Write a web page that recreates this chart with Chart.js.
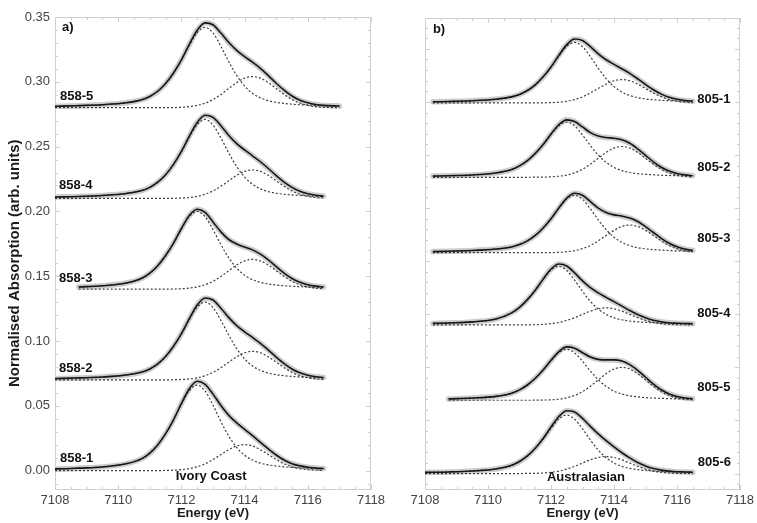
<!DOCTYPE html>
<html>
<head>
<meta charset="utf-8">
<script src="https://cdn.jsdelivr.net/npm/chart.js@4.4.1/dist/chart.umd.min.js"></script>
<style>
  html, body { margin: 0; padding: 0; background: #fff; }
  body { width: 757px; height: 523px; position: relative; overflow: hidden; }
  canvas { position: absolute; top: 0; }
  #ivory { left: 0; }
  #austral { left: 380px; }
</style>
</head>
<body>
<canvas id="ivory" width="400" height="523"></canvas>
<canvas id="austral" width="377" height="523"></canvas>
<script>
// shared energy grid (eV)
const energy = [7108.0, 7108.25, 7108.75, 7109.5, 7110.25, 7110.75, 7111.0, 7111.25, 7111.5, 7111.75,
  7112.0, 7112.25, 7112.5, 7112.75, 7113.0, 7113.25, 7113.5, 7113.75, 7114.0, 7114.25,
  7114.5, 7114.75, 7115.0, 7115.25, 7115.5, 7115.75, 7116.0, 7116.25, 7116.5, 7117.0];

const xTicks = [7108, 7110, 7112, 7114, 7116, 7118];
const yTicks = [0, 0.05, 0.10, 0.15, 0.20, 0.25, 0.30, 0.35];

//// a) Ivory Coast
const fit_858_5 = [0.2811, 0.2812, 0.2816, 0.2823, 0.2838, 0.2862, 0.2887, 0.2927, 0.2987, 0.3068, 0.3169, 0.3289, 0.3398, 0.3455, 0.3440, 0.3376, 0.3303, 0.3243, 0.3195, 0.3151, 0.3104, 0.3048, 0.2989, 0.2935, 0.2890, 0.2858, 0.2838, 0.2825, 0.2818, 0.2813];
const pk1_858_5 = [0.2811, 0.2812, 0.2816, 0.2823, 0.2838, 0.2862, 0.2887, 0.2927, 0.2986, 0.3067, 0.3166, 0.3281, 0.3380, 0.3420, 0.3377, 0.3274, 0.3155, 0.3049, 0.2967, 0.2911, 0.2876, 0.2854, 0.2841, 0.2833, 0.2827, 0.2823, 0.2820, 0.2817, 0.2815, 0.2812];
const pk2_858_5 = [0.2800, 0.2800, 0.2800, 0.2800, 0.2800, 0.2800, 0.2800, 0.2800, 0.2800, 0.2801, 0.2803, 0.2808, 0.2818, 0.2835, 0.2863, 0.2902, 0.2948, 0.2994, 0.3028, 0.3040, 0.3028, 0.2994, 0.2948, 0.2902, 0.2863, 0.2835, 0.2818, 0.2808, 0.2803, 0.2800];

const fit_858_4 = [0.2110, 0.2112, 0.2115, 0.2123, 0.2138, 0.2161, 0.2185, 0.2225, 0.2283, 0.2363, 0.2463, 0.2580, 0.2686, 0.2742, 0.2725, 0.2661, 0.2586, 0.2523, 0.2474, 0.2429, 0.2383, 0.2331, 0.2276, 0.2226, 0.2185, 0.2155, 0.2136, 0.2124, 0.2118, null];
const pk1_858_4 = [0.2110, 0.2112, 0.2115, 0.2123, 0.2138, 0.2161, 0.2185, 0.2225, 0.2283, 0.2362, 0.2460, 0.2573, 0.2670, 0.2710, 0.2667, 0.2567, 0.2450, 0.2345, 0.2265, 0.2209, 0.2174, 0.2153, 0.2140, 0.2132, 0.2127, 0.2123, 0.2120, 0.2117, 0.2115, null];
const pk2_858_4 = [0.2100, 0.2100, 0.2100, 0.2100, 0.2100, 0.2100, 0.2100, 0.2100, 0.2100, 0.2101, 0.2103, 0.2107, 0.2116, 0.2132, 0.2158, 0.2194, 0.2236, 0.2278, 0.2309, 0.2320, 0.2309, 0.2278, 0.2236, 0.2194, 0.2158, 0.2132, 0.2116, 0.2107, 0.2103, null];

const fit_858_3 = [null, null, 0.1417, 0.1426, 0.1447, 0.1484, 0.1523, 0.1580, 0.1659, 0.1755, 0.1868, 0.1969, 0.2017, 0.1992, 0.1919, 0.1842, 0.1783, 0.1748, 0.1725, 0.1703, 0.1670, 0.1626, 0.1574, 0.1524, 0.1482, 0.1453, 0.1434, 0.1423, 0.1416, null];
const pk1_858_3 = [null, null, 0.1417, 0.1426, 0.1447, 0.1484, 0.1523, 0.1580, 0.1658, 0.1754, 0.1865, 0.1961, 0.2000, 0.1958, 0.1859, 0.1744, 0.1641, 0.1562, 0.1507, 0.1473, 0.1452, 0.1440, 0.1432, 0.1426, 0.1422, 0.1419, 0.1417, 0.1415, 0.1413, null];
const pk2_858_3 = [null, null, 0.1400, 0.1400, 0.1400, 0.1400, 0.1400, 0.1400, 0.1400, 0.1401, 0.1403, 0.1408, 0.1417, 0.1434, 0.1460, 0.1498, 0.1542, 0.1586, 0.1618, 0.1630, 0.1618, 0.1586, 0.1542, 0.1498, 0.1460, 0.1434, 0.1417, 0.1408, 0.1403, null];

const fit_858_2 = [0.0710, 0.0711, 0.0715, 0.0722, 0.0737, 0.0760, 0.0784, 0.0823, 0.0880, 0.0959, 0.1057, 0.1172, 0.1277, 0.1332, 0.1316, 0.1253, 0.1180, 0.1119, 0.1071, 0.1027, 0.0982, 0.0930, 0.0876, 0.0826, 0.0784, 0.0754, 0.0735, 0.0724, 0.0718, null];
const pk1_858_2 = [0.0710, 0.0711, 0.0715, 0.0722, 0.0737, 0.0760, 0.0784, 0.0823, 0.0880, 0.0958, 0.1054, 0.1165, 0.1261, 0.1300, 0.1258, 0.1159, 0.1044, 0.0941, 0.0862, 0.0807, 0.0773, 0.0752, 0.0740, 0.0732, 0.0726, 0.0722, 0.0719, 0.0717, 0.0715, null];
const pk2_858_2 = [0.0700, 0.0700, 0.0700, 0.0700, 0.0700, 0.0700, 0.0700, 0.0700, 0.0700, 0.0701, 0.0703, 0.0707, 0.0716, 0.0732, 0.0758, 0.0794, 0.0836, 0.0878, 0.0909, 0.0920, 0.0909, 0.0878, 0.0836, 0.0794, 0.0758, 0.0732, 0.0716, 0.0707, 0.0703, null];

const fit_858_1 = [0.0013, 0.0014, 0.0019, 0.0028, 0.0052, 0.0092, 0.0135, 0.0198, 0.0285, 0.0392, 0.0518, 0.0632, 0.0689, 0.0666, 0.0590, 0.0502, 0.0426, 0.0368, 0.0318, 0.0270, 0.0218, 0.0168, 0.0120, 0.0081, 0.0053, 0.0036, 0.0026, 0.0019, 0.0016, null];
const pk1_858_1 = [0.0013, 0.0014, 0.0019, 0.0028, 0.0052, 0.0092, 0.0135, 0.0198, 0.0284, 0.0389, 0.0512, 0.0617, 0.0660, 0.0614, 0.0505, 0.0378, 0.0265, 0.0178, 0.0118, 0.0081, 0.0057, 0.0044, 0.0035, 0.0029, 0.0024, 0.0021, 0.0019, 0.0016, 0.0015, null];
const pk2_858_1 = [0.0000, 0.0000, 0.0000, 0.0000, 0.0000, 0.0000, 0.0000, 0.0000, 0.0001, 0.0003, 0.0007, 0.0015, 0.0029, 0.0052, 0.0085, 0.0124, 0.0161, 0.0190, 0.0200, 0.0190, 0.0161, 0.0124, 0.0085, 0.0052, 0.0029, 0.0015, 0.0007, 0.0003, 0.0001, null];

//// b) Australasian
const fit_805_1 = [null, 0.3501, 0.3504, 0.3511, 0.3525, 0.3547, 0.3570, 0.3607, 0.3661, 0.3736, 0.3829, 0.3939, 0.4039, 0.4092, 0.4078, 0.4020, 0.3953, 0.3897, 0.3853, 0.3812, 0.3769, 0.3718, 0.3664, 0.3614, 0.3573, 0.3543, 0.3524, 0.3513, 0.3507, null];
const pk1_805_1 = [null, 0.3501, 0.3504, 0.3511, 0.3525, 0.3547, 0.3570, 0.3607, 0.3661, 0.3735, 0.3826, 0.3932, 0.4023, 0.4060, 0.4020, 0.3926, 0.3817, 0.3719, 0.3644, 0.3592, 0.3560, 0.3540, 0.3528, 0.3520, 0.3515, 0.3511, 0.3508, 0.3506, 0.3504, null];
const pk2_805_1 = [null, 0.3490, 0.3490, 0.3490, 0.3490, 0.3490, 0.3490, 0.3490, 0.3490, 0.3491, 0.3493, 0.3497, 0.3506, 0.3522, 0.3548, 0.3584, 0.3626, 0.3668, 0.3699, 0.3710, 0.3699, 0.3668, 0.3626, 0.3584, 0.3548, 0.3522, 0.3506, 0.3497, 0.3493, null];

const fit_805_2 = [null, 0.2801, 0.2805, 0.2812, 0.2831, 0.2863, 0.2897, 0.2946, 0.3015, 0.3099, 0.3197, 0.3286, 0.3331, 0.3316, 0.3264, 0.3211, 0.3178, 0.3164, 0.3158, 0.3143, 0.3110, 0.3058, 0.2997, 0.2936, 0.2885, 0.2849, 0.2826, 0.2813, 0.2805, null];
const pk1_805_2 = [null, 0.2801, 0.2805, 0.2812, 0.2831, 0.2863, 0.2897, 0.2946, 0.3014, 0.3097, 0.3193, 0.3276, 0.3310, 0.3274, 0.3188, 0.3088, 0.2999, 0.2930, 0.2883, 0.2853, 0.2835, 0.2824, 0.2818, 0.2813, 0.2809, 0.2807, 0.2805, 0.2803, 0.2801, null];
const pk2_805_2 = [null, 0.2790, 0.2790, 0.2790, 0.2790, 0.2790, 0.2790, 0.2790, 0.2791, 0.2792, 0.2794, 0.2800, 0.2811, 0.2832, 0.2866, 0.2913, 0.2969, 0.3024, 0.3065, 0.3080, 0.3065, 0.3024, 0.2969, 0.2913, 0.2866, 0.2832, 0.2811, 0.2800, 0.2794, null];

const fit_805_3 = [null, 0.2090, 0.2094, 0.2100, 0.2114, 0.2134, 0.2156, 0.2191, 0.2242, 0.2313, 0.2400, 0.2502, 0.2594, 0.2639, 0.2620, 0.2561, 0.2500, 0.2458, 0.2436, 0.2424, 0.2406, 0.2374, 0.2326, 0.2270, 0.2215, 0.2168, 0.2135, 0.2114, 0.2102, null];
const pk1_805_3 = [null, 0.2090, 0.2094, 0.2100, 0.2114, 0.2134, 0.2156, 0.2191, 0.2242, 0.2312, 0.2399, 0.2499, 0.2585, 0.2620, 0.2582, 0.2493, 0.2389, 0.2297, 0.2226, 0.2177, 0.2146, 0.2127, 0.2116, 0.2109, 0.2104, 0.2100, 0.2097, 0.2095, 0.2093, null];
const pk2_805_3 = [null, 0.2080, 0.2080, 0.2080, 0.2080, 0.2080, 0.2080, 0.2080, 0.2080, 0.2080, 0.2081, 0.2083, 0.2089, 0.2099, 0.2118, 0.2148, 0.2191, 0.2241, 0.2290, 0.2327, 0.2340, 0.2327, 0.2290, 0.2241, 0.2191, 0.2148, 0.2118, 0.2099, 0.2089, null];

const fit_805_4 = [null, 0.1414, 0.1418, 0.1428, 0.1455, 0.1513, 0.1565, 0.1638, 0.1727, 0.1831, 0.1926, 0.1973, 0.1954, 0.1889, 0.1814, 0.1750, 0.1701, 0.1659, 0.1619, 0.1577, 0.1535, 0.1497, 0.1466, 0.1443, 0.1430, 0.1420, 0.1416, 0.1413, 0.1411, null];
const pk1_805_4 = [null, 0.1414, 0.1418, 0.1428, 0.1455, 0.1513, 0.1565, 0.1637, 0.1725, 0.1826, 0.1914, 0.1950, 0.1912, 0.1821, 0.1715, 0.1621, 0.1549, 0.1499, 0.1467, 0.1448, 0.1436, 0.1429, 0.1424, 0.1420, 0.1418, 0.1415, 0.1414, 0.1412, 0.1411, null];
const pk2_805_4 = [null, 0.1400, 0.1400, 0.1400, 0.1400, 0.1400, 0.1400, 0.1400, 0.1402, 0.1405, 0.1412, 0.1423, 0.1442, 0.1468, 0.1499, 0.1529, 0.1552, 0.1560, 0.1552, 0.1529, 0.1499, 0.1468, 0.1442, 0.1423, 0.1412, 0.1405, 0.1402, 0.1401, 0.1400, null];

const fit_805_5 = [null, null, 0.0703, 0.0711, 0.0727, 0.0757, 0.0788, 0.0834, 0.0897, 0.0975, 0.1066, 0.1149, 0.1193, 0.1181, 0.1138, 0.1097, 0.1075, 0.1070, 0.1070, 0.1059, 0.1026, 0.0972, 0.0907, 0.0843, 0.0789, 0.0750, 0.0726, 0.0712, 0.0705, null];
const pk1_805_5 = [null, null, 0.0703, 0.0711, 0.0727, 0.0757, 0.0788, 0.0834, 0.0896, 0.0973, 0.1062, 0.1139, 0.1170, 0.1136, 0.1057, 0.0965, 0.0883, 0.0820, 0.0776, 0.0749, 0.0732, 0.0722, 0.0715, 0.0711, 0.0708, 0.0705, 0.0703, 0.0702, 0.0701, null];
const pk2_805_5 = [null, null, 0.0690, 0.0690, 0.0690, 0.0690, 0.0690, 0.0690, 0.0691, 0.0692, 0.0694, 0.0700, 0.0713, 0.0735, 0.0771, 0.0822, 0.0882, 0.0940, 0.0984, 0.1000, 0.0984, 0.0940, 0.0882, 0.0822, 0.0771, 0.0735, 0.0713, 0.0700, 0.0694, null];

const fit_805_6 = [0.0011, 0.0012, 0.0015, 0.0024, 0.0043, 0.0077, 0.0113, 0.0166, 0.0239, 0.0330, 0.0438, 0.0537, 0.0592, 0.0580, 0.0520, 0.0444, 0.0373, 0.0309, 0.0251, 0.0196, 0.0147, 0.0104, 0.0071, 0.0047, 0.0032, 0.0023, 0.0017, 0.0015, 0.0012, null];
const pk1_805_6 = [0.0011, 0.0012, 0.0015, 0.0024, 0.0043, 0.0077, 0.0113, 0.0165, 0.0237, 0.0325, 0.0426, 0.0514, 0.0550, 0.0512, 0.0421, 0.0315, 0.0221, 0.0149, 0.0099, 0.0067, 0.0048, 0.0036, 0.0029, 0.0024, 0.0020, 0.0018, 0.0015, 0.0014, 0.0012, null];
const pk2_805_6 = [0.0000, 0.0000, 0.0000, 0.0000, 0.0000, 0.0000, 0.0000, 0.0001, 0.0002, 0.0005, 0.0012, 0.0023, 0.0042, 0.0068, 0.0099, 0.0129, 0.0152, 0.0160, 0.0152, 0.0129, 0.0099, 0.0068, 0.0042, 0.0023, 0.0012, 0.0005, 0.0002, 0.0001, 0.0000, null];

// text placed in data coordinates
const ivoryLabels = [
  { text: 'a)', x: 7108.22, y: 0.3416 },
  { text: '858-5', x: 7108.16, y: 0.289 },
  { text: '858-4', x: 7108.13, y: 0.2197 },
  { text: '858-3', x: 7108.13, y: 0.148 },
  { text: '858-2', x: 7108.13, y: 0.0786 },
  { text: '858-1', x: 7108.16, y: 0.0093 },
  { text: 'Ivory Coast', x: 7112.94, y: -0.0046, align: 'center' }
];
const australLabels = [
  { text: 'b)', x: 7108.25, y: 0.4186 },
  { text: '805-1', x: 7116.64, y: 0.3525 },
  { text: '805-2', x: 7116.64, y: 0.2884 },
  { text: '805-3', x: 7116.64, y: 0.2214 },
  { text: '805-4', x: 7116.64, y: 0.1507 },
  { text: '805-5', x: 7116.64, y: 0.0808 },
  { text: '805-6', x: 7116.66, y: 0.0101 },
  { text: 'Australasian', x: 7113.11, y: -0.0041, align: 'center' }
];
const yTitle = { text: 'Normalised Absorption (arb. units)', y: 0.160 };

const FONT = "'Liberation Sans', Arial, sans-serif";
Chart.defaults.font.family = FONT;

function toPoints(values) {
  return energy.map((e, i) => ({ x: e, y: values[i] }));
}

// one spectrum = grey measured band, two dotted components, black fit
function spectrumSets(fit, pk1, pk2) {
  return [
    { data: toPoints(fit), borderColor: '#cdcdcd', borderWidth: 5.5, borderCapStyle: 'round', order: 3 },
    { data: toPoints(pk1), borderColor: '#3c3c3c', borderWidth: 1.2, borderDash: [2, 2], order: 2 },
    { data: toPoints(pk2), borderColor: '#3c3c3c', borderWidth: 1.2, borderDash: [2, 2], order: 2 },
    { data: toPoints(fit), borderColor: '#151515', borderWidth: 1.6, order: 1 }
  ];
}

const panelDecor = {
  id: 'panelDecor',
  beforeDatasetsDraw(chart) {
    const { ctx, chartArea: a, scales: { x, y } } = chart;
    ctx.save();
    ctx.strokeStyle = '#cfcfcf';
    ctx.lineWidth = 1;
    ctx.strokeRect(a.left + 0.5, a.top + 0.5, a.right - a.left - 1, a.bottom - a.top - 1);
    ctx.beginPath();
    for (let k = 0; k <= 20; k++) {
      const px = Math.round(x.getPixelForValue(7108 + k * 0.5)) + 0.5;
      const len = k % 4 === 0 ? 5 : 3;
      ctx.moveTo(px, a.top); ctx.lineTo(px, a.top + len);
      ctx.moveTo(px, a.bottom); ctx.lineTo(px, a.bottom - len);
    }
    for (let k = Math.ceil(y.min * 100); k <= Math.floor(y.max * 100); k++) {
      const py = Math.round(y.getPixelForValue(k / 100)) + 0.5;
      const len = k % 5 === 0 ? 5 : 3;
      ctx.moveTo(a.left, py); ctx.lineTo(a.left + len, py);
      ctx.moveTo(a.right, py); ctx.lineTo(a.right - len, py);
    }
    ctx.stroke();
    ctx.restore();
  },
  afterDatasetsDraw(chart, args, opts) {
    const { ctx, scales: { x, y } } = chart;
    ctx.save();
    ctx.font = 'bold 13px ' + FONT;
    ctx.fillStyle = '#111';
    ctx.textBaseline = 'middle';
    (opts.labels || []).forEach(t => {
      ctx.textAlign = t.align || 'left';
      ctx.fillText(t.text, x.getPixelForValue(t.x), y.getPixelForValue(t.y));
    });
    if (opts.yTitle) {
      ctx.translate(15, y.getPixelForValue(opts.yTitle.y));
      ctx.rotate(-Math.PI / 2);
      ctx.font = 'bold 15px ' + FONT;
      ctx.textAlign = 'center';
      ctx.fillStyle = '#1a1a1a';
      ctx.fillText(opts.yTitle.text, 0, 0);
    }
    ctx.restore();
  }
};

function xScale() {
  return {
    type: 'linear', min: 7108, max: 7118,
    afterBuildTicks: axis => { axis.ticks = xTicks.map(v => ({ value: v })); },
    ticks: { callback: v => String(v), font: { size: 13 }, color: '#444', padding: 3, autoSkip: false, maxRotation: 0 },
    grid: { display: false, drawTicks: false },
    border: { display: false },
    title: { display: true, text: 'Energy (eV)', color: '#1a1a1a', font: { size: 13, weight: 'bold' }, padding: { top: 0, bottom: 2 } },
    afterFit: axis => { axis.height = 33; }
  };
}

function makeChart(id, datasets, yScale, padding, decor) {
  return new Chart(document.getElementById(id), {
    type: 'line',
    data: { datasets },
    options: {
      responsive: false,
      animation: false,
      devicePixelRatio: 1,
      layout: { padding },
      elements: {
        point: { radius: 0 },
        line: { cubicInterpolationMode: 'monotone', fill: false }
      },
      plugins: { legend: { display: false }, tooltip: { enabled: false }, panelDecor: decor },
      scales: { x: xScale(), y: yScale }
    },
    plugins: [panelDecor]
  });
}

const ivorySets = [].concat(
  spectrumSets(fit_858_5, pk1_858_5, pk2_858_5),
  spectrumSets(fit_858_4, pk1_858_4, pk2_858_4),
  spectrumSets(fit_858_3, pk1_858_3, pk2_858_3),
  spectrumSets(fit_858_2, pk1_858_2, pk2_858_2),
  spectrumSets(fit_858_1, pk1_858_1, pk2_858_1)
);
const australSets = [].concat(
  spectrumSets(fit_805_1, pk1_805_1, pk2_805_1),
  spectrumSets(fit_805_2, pk1_805_2, pk2_805_2),
  spectrumSets(fit_805_3, pk1_805_3, pk2_805_3),
  spectrumSets(fit_805_4, pk1_805_4, pk2_805_4),
  spectrumSets(fit_805_5, pk1_805_5, pk2_805_5),
  spectrumSets(fit_805_6, pk1_805_6, pk2_805_6)
);

makeChart('ivory', ivorySets, {
  type: 'linear', min: -0.015, max: 0.35,
  afterBuildTicks: axis => { axis.ticks = yTicks.map(v => ({ value: v })); },
  ticks: { callback: v => v.toFixed(2), font: { size: 13 }, color: '#444', padding: 5 },
  grid: { display: false, drawTicks: false },
  border: { display: false },
  afterFit: axis => { axis.width = 55; }
}, { left: 0, right: 29, top: 17, bottom: 0 }, { labels: ivoryLabels, yTitle });

makeChart('austral', australSets, {
  type: 'linear', min: -0.0155, max: 0.429, display: false
}, { left: 45, right: 15, top: 18, bottom: 0 }, { labels: australLabels });
</script>
</body>
</html>
